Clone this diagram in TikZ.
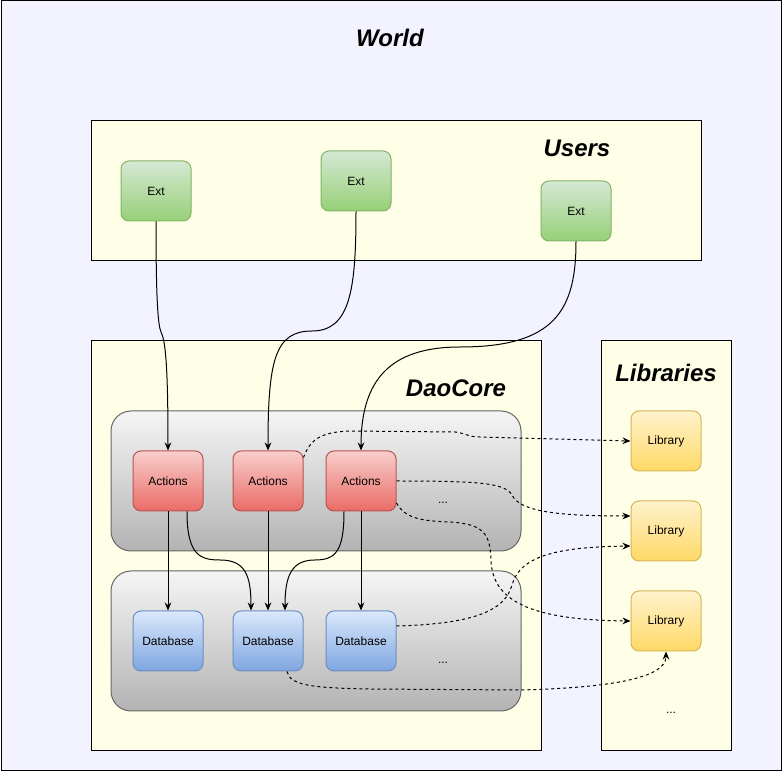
\documentclass[tikz,border=0pt]{standalone}
\usepackage{fontspec}
\setmainfont{Liberation Sans}
\usetikzlibrary{arrows.meta,calc}
\definecolor{worldfill}{HTML}{F3F3FF}
\definecolor{panelfill}{HTML}{FFFFE8}
\definecolor{extT}{HTML}{D5E8D4}\definecolor{extB}{HTML}{97D077}\definecolor{extD}{HTML}{82B366}
\definecolor{actT}{HTML}{F8CECC}\definecolor{actB}{HTML}{EA6B66}\definecolor{actD}{HTML}{B85450}
\definecolor{dbT}{HTML}{DAE8FC}\definecolor{dbB}{HTML}{7EA6E0}\definecolor{dbD}{HTML}{6C8EBF}
\definecolor{libT}{HTML}{FFF2CC}\definecolor{libB}{HTML}{FFD966}\definecolor{libD}{HTML}{D6B656}
\definecolor{grpT}{HTML}{F5F5F5}\definecolor{grpB}{HTML}{B3B3B3}\definecolor{grpD}{HTML}{666666}
\begin{document}
\begin{tikzpicture}[x=0.75pt,y=-0.75pt,
  frame/.style={draw=black,line width=0.75pt},
  title/.style={font=\fontsize{18}{22}\selectfont\bfseries\itshape,inner sep=0},
  box/.style={rounded corners=6pt,minimum width=52.5pt,minimum height=45pt,line width=0.75pt,
    font=\fontsize{9}{11}\selectfont,inner sep=0},
  extbox/.style={box,draw=extD,top color=extT,bottom color=extB},
  actbox/.style={box,draw=actD,top color=actT,bottom color=actB},
  dbbox/.style={box,draw=dbD,top color=dbT,bottom color=dbB},
  libbox/.style={box,draw=libD,top color=libT,bottom color=libB},
  groupbox/.style={rounded corners=15pt,draw=grpD,line width=0.75pt,top color=grpT,bottom color=grpB,
    minimum width=307.5pt,minimum height=105pt},
  dots/.style={font=\fontsize{9}{11}\selectfont,inner sep=0},
  conn/.style={line width=0.75pt,-{Stealth[length=6pt,width=5pt]}},
  dconn/.style={conn,dashed,dash pattern=on 2.25pt off 2.25pt}
]
\useasboundingbox (0,0) rectangle (783,773);
\draw[frame,fill=worldfill] (1,1) rectangle (781,771);
\node[title] (tworld) at (390,38) {World};
\draw[frame,fill=panelfill] (91,121) rectangle (701,261);
\node[title] (tusers) at (577,148) {Users};
\draw[frame,fill=panelfill] (91,341) rectangle (541,751);
\node[title] (tdao) at (456,388) {DaoCore};
\draw[frame,fill=panelfill] (601,341) rectangle (731,751);
\node[title] (tlib) at (666,373) {Libraries};

\node[groupbox] (gact) at (316,481) {};
\node[groupbox] (gdb) at (316,641) {};

\node[extbox] (e1) at (156,191) {Ext};
\node[extbox] (e2) at (356,181) {Ext};
\node[extbox] (e3) at (576,211) {Ext};

\node[actbox] (a1) at (168,481) {Actions};
\node[actbox] (a2) at (268,481) {Actions};
\node[actbox] (a3) at (361,481) {Actions};
\node[dots] (dact) at (443,503) {...};

\node[dbbox] (d1) at (168,641) {Database};
\node[dbbox] (d2) at (268,641) {Database};
\node[dbbox] (d3) at (361,641) {Database};
\node[dots] (ddb) at (443,663) {...};

\node[libbox] (l1) at (666,441) {Library};
\node[libbox] (l2) at (666,531) {Library};
\node[libbox] (l3) at (666,621) {Library};
\node[dots] (dlib) at (671,713) {...};

% solid connectors
\draw[conn] (e1.south) .. controls (156,300) and (158,325) .. (161,332) .. controls (165,340) and (168,360) .. (a1.north);
\draw[conn] (e2.south) .. controls (356,290) and (350,331) .. (312,331) .. controls (275,331) and (268,360) .. (a2.north);
\draw[conn] (e3.south) .. controls (576,310) and (555,347) .. (460,347) .. controls (390,347) and (361,380) .. (a3.north);
\draw[conn] (a1.south) -- (d1.north);
\draw[conn] (a2.south) -- (d2.north);
\draw[conn] (a3.south) -- (d3.north);
\draw[conn] ($(a1.south)+(19,0)$) .. controls (187,555) and (200,560) .. (220,560) .. controls (245,560) and (251,575) .. ($(d2.north)+(-17,0)$);
\draw[conn] ($(a3.south)+(-17,0)$) .. controls (344,552) and (335,560) .. (315,560) .. controls (292,560) and (285,575) .. ($(d2.north)+(17,0)$);

% dashed connectors
\draw[dconn] ($(a2.north east)+(0,7)$) .. controls (310,440) and (320,432) .. (350,431) -- (455,432) .. controls (465,433) and (468,437) .. (480,437) -- (l1.west);
\draw[dconn] (a3.east) .. controls (480,481) and (505,483) .. (512,495) .. controls (520,512) and (560,516) .. ($(l2.west)+(0,-15)$);
\draw[dconn] ($(a3.east)+(0,22)$) .. controls (405,518) and (420,521) .. (450,522) .. controls (485,524) and (490,535) .. (491,560) .. controls (492,605) and (540,620) .. (l3.west);
\draw[dconn] ($(d3.east)+(0,-15)$) .. controls (470,624) and (505,612) .. (512,585) .. controls (520,555) and (560,547) .. ($(l2.west)+(0,15)$);
\draw[dconn] ($(d2.south)+(19,0)$) .. controls (290,685) and (310,688) .. (370,689) -- (520,690) .. controls (600,688) and (666,680) .. (l3.south);
\end{tikzpicture}
\end{document}
